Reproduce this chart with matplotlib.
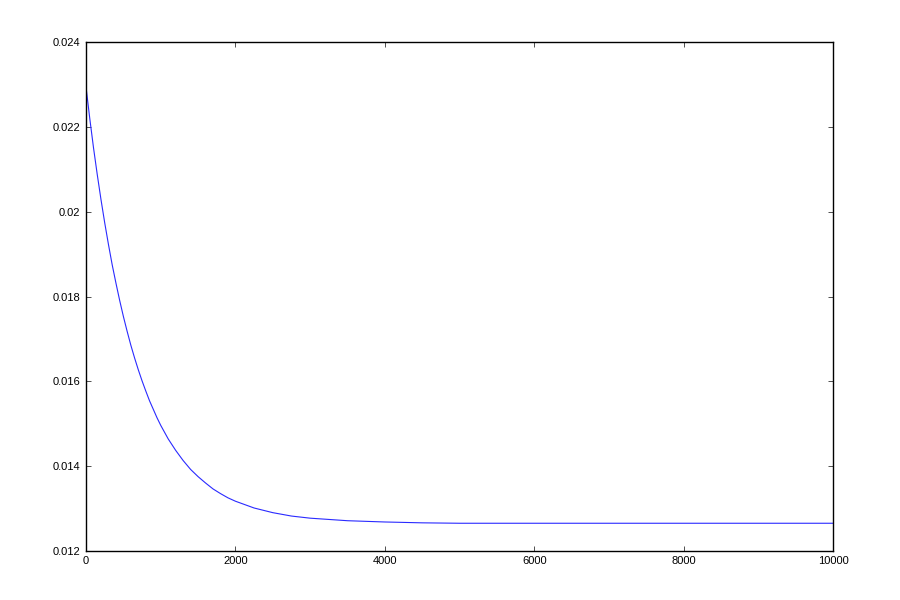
import matplotlib
matplotlib.use("Agg")
import matplotlib.pyplot as plt

plt.rcParams['font.family'] = ['Liberation Sans', 'DejaVu Sans']

# data
x_vals = [0, 50, 100, 150, 200, 250, 300, 350, 400, 450, 500, 550, 600, 650,
          700, 750, 800, 850, 900, 950, 1000, 1100, 1200, 1300, 1400, 1500,
          1600, 1700, 1800, 1900, 2000, 2250, 2500, 2750, 3000, 3500, 4000,
          4500, 5000, 6000, 7000, 8000, 9000, 10000]
y_vals = [0.02294, 0.02220, 0.02151, 0.02088, 0.02029, 0.01974, 0.01923,
          0.01875, 0.01832, 0.01791, 0.01753, 0.01718, 0.01685, 0.01655,
          0.01627, 0.01601, 0.01577, 0.01554, 0.01534, 0.01514, 0.01496,
          0.01464, 0.01437, 0.01413, 0.01392, 0.01375, 0.01360, 0.01346,
          0.01335, 0.01325, 0.01317, 0.01301, 0.01290, 0.01282, 0.01277,
          0.01271, 0.01268, 0.01266, 0.01265, 0.01265, 0.01265, 0.01265,
          0.01265, 0.01265]

x_ticks = [0, 2000, 4000, 6000, 8000, 10000]
x_labels = ['0', '2000', '4000', '6000', '8000', '10000']
y_ticks = [0.012, 0.014, 0.016, 0.018, 0.020, 0.022, 0.024]
y_labels = ['0.012', '0.014', '0.016', '0.018', '0.02', '0.022', '0.024']

fig = plt.figure(figsize=(9, 6), dpi=100)
ax = fig.add_axes([0.0956, 0.082, 0.83, 0.8475])
ax.plot(x_vals, y_vals, color='#2a2aff', linewidth=0.8)

ax.set_xlim(0, 10000)
ax.set_ylim(0.012, 0.024)
ax.set_xticks(x_ticks)
ax.set_xticklabels(x_labels)
ax.set_yticks(y_ticks)
ax.set_yticklabels(y_labels)

ax.tick_params(direction='in', length=3.5, width=0.6, labelsize=8,
               top=True, right=True, pad=4, color='#333333')
for s in ax.spines.values():
    s.set_linewidth(1.0)
    s.set_color('black')

fig.savefig('out.png', dpi=100)
